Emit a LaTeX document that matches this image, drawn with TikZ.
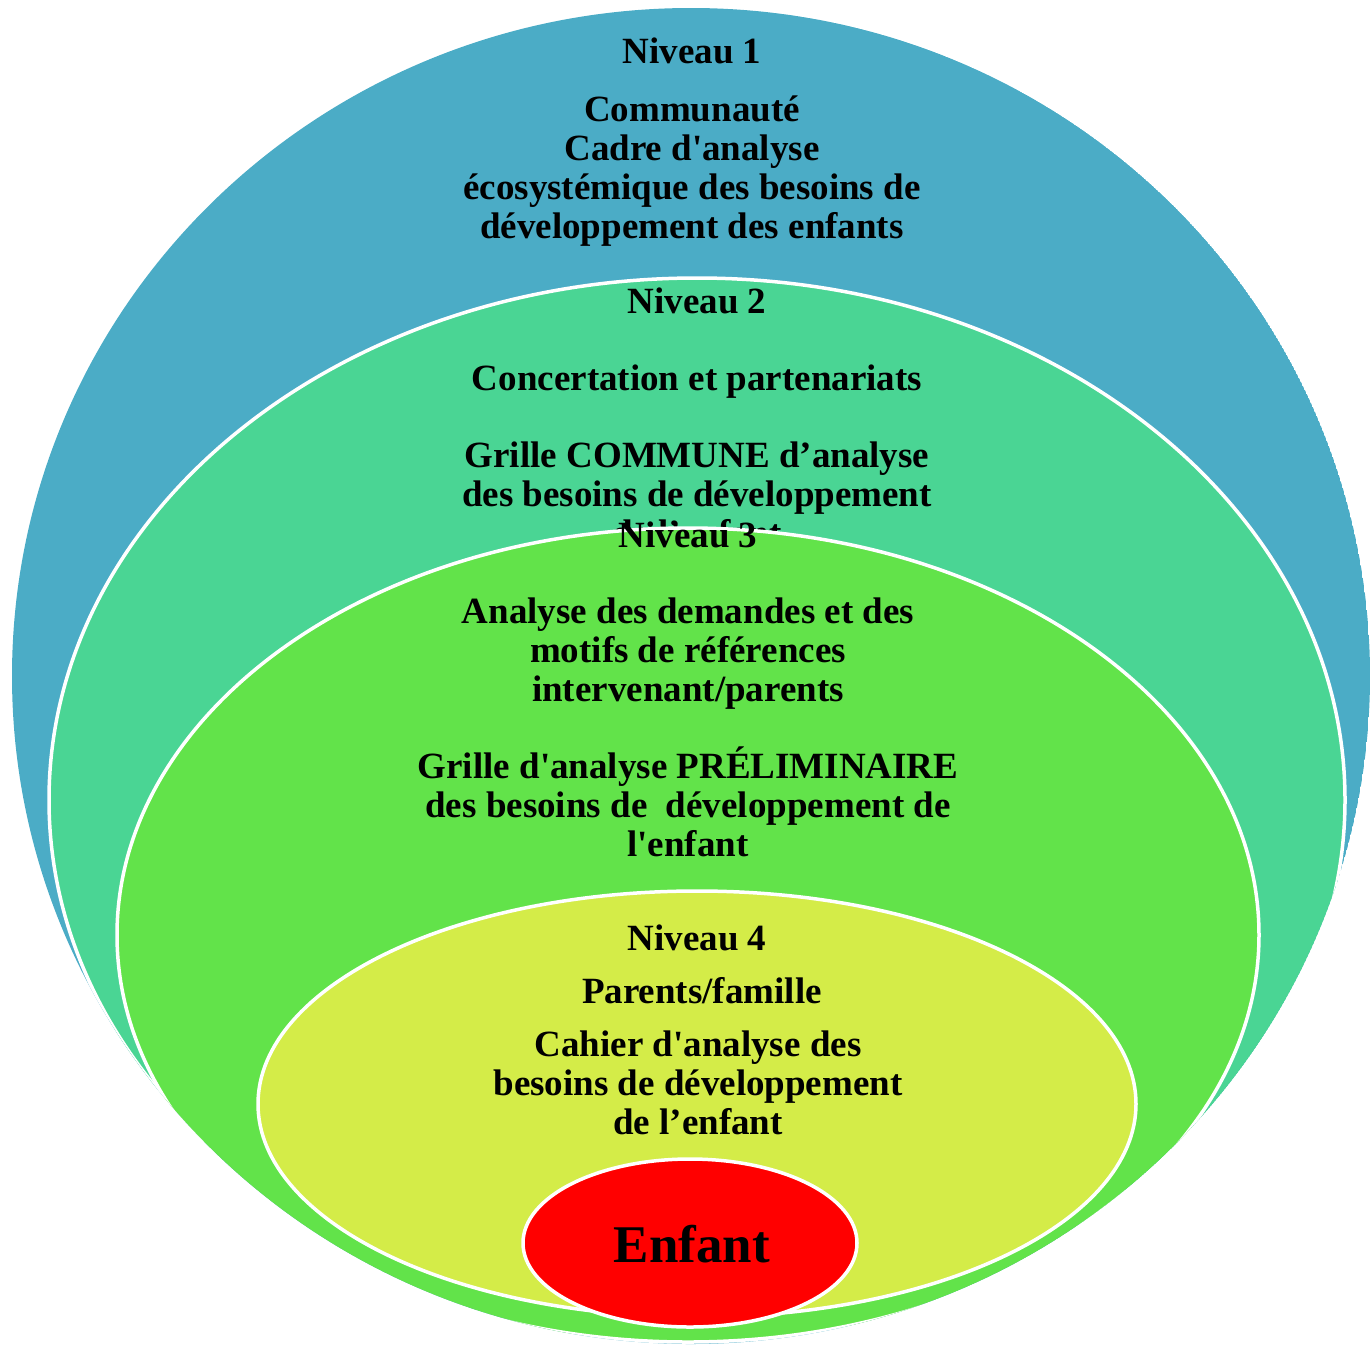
\documentclass[tikz,border=0pt]{standalone}
\usepackage{fontspec}
\setmainfont{Liberation Serif}
\definecolor{niv1}{HTML}{4BACC6}
\definecolor{niv2}{HTML}{4AD594}
\definecolor{niv3}{HTML}{62E34A}
\definecolor{niv4}{HTML}{D4EC48}
\definecolor{enf}{HTML}{FF0000}
\tikzset{
  anneau/.style={draw=white, line width=1.75pt},
  texte/.style={align=center, inner sep=0pt, anchor=base,
    font=\fontsize{18.5}{19.35}\selectfont\bfseries},
}
\begin{document}
\begin{tikzpicture}[x=0.5pt, y=-0.5pt]
    \useasboundingbox (0,0) rectangle (1370,1345);
    \begin{scope}
        \clip (691,676) ellipse [x radius=679, y radius=668];
        % niveau 1
        \fill[niv1] (691,676) ellipse [x radius=679, y radius=668];
        \node[texte] (titre1) at (692,63) {Niveau 1};
        \node[texte] (desc1) at (692,238) {Communauté\\Cadre d\textquotesingle analyse\\écosystémique des besoins de\\développement des enfants};
        % niveau 2
        \filldraw[niv2, anneau] (697,800) ellipse [x radius=648, y radius=522];
        \node[texte] (titre2) at (697,313) {Niveau 2};
        \node[texte] (desc2a) at (697,390) {Concertation et partenariats};
        \node[texte] (desc2b) at (697,545) {Grille COMMUNE d’analyse\\des besoins de développement\\de l’enfant};
        % niveau 3
        \filldraw[niv3, anneau] (688,935) ellipse [x radius=571, y radius=407];
        \node[texte] (titre3) at (688,547) {Niveau 3};
        \node[texte] (desc3a) at (688,701) {Analyse des demandes et des\\motifs de références\\intervenant/parents};
        \node[texte] (desc3b) at (688,856) {Grille d\textquotesingle analyse PRÉLIMINAIRE\\des besoins de~ développement de\\l\textquotesingle enfant};
        % niveau 4
        \filldraw[niv4, anneau] (697,1104) ellipse [x radius=439, y radius=213];
        \node[texte] (titre4) at (697,950) {Niveau 4};
        \node[texte] (desc4a) at (702,1003) {Parents/famille};
        \node[texte] (desc4b) at (698,1134) {Cahier d\textquotesingle analyse des\\besoins de développement\\de l’enfant};
        % enfant
        \filldraw[enf, anneau] (690,1243) ellipse [x radius=167, y radius=84];
        \node[texte, font=\fontsize{26.5}{30}\selectfont\bfseries] (enfant) at (692,1262) {Enfant};
    \end{scope}
\end{tikzpicture}
\end{document}
